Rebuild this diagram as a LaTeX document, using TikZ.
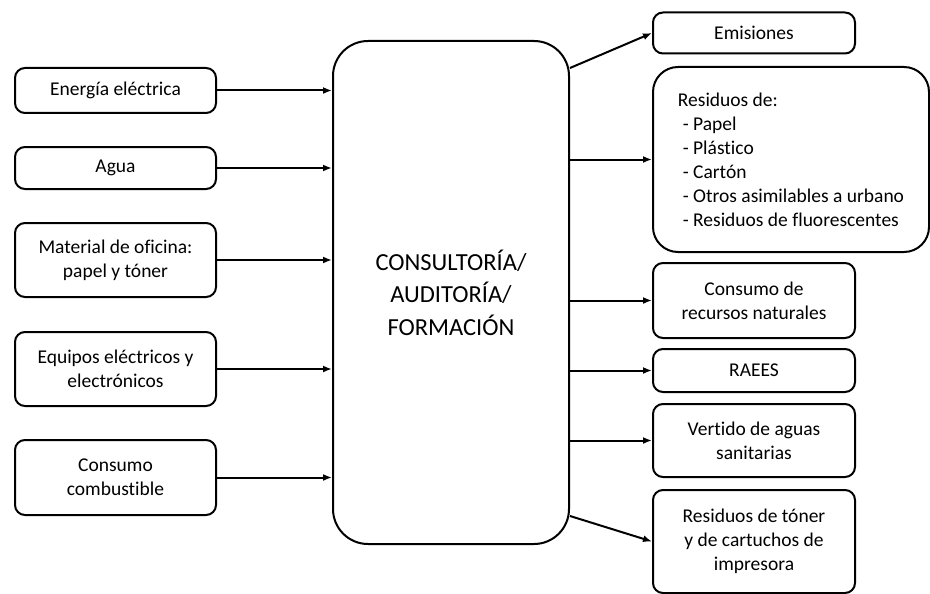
\documentclass[tikz,border=0pt]{standalone}
\usepackage{fontspec}
\setmainfont{Carlito}[Ligatures={NoCommon}]
\usepackage{tikz}
\usetikzlibrary{arrows.meta, positioning, calc}

\begin{document}
\begin{tikzpicture}[
    x=1pt, y=-1pt,
    inbox/.style   = {draw, line width=2pt, rounded corners=10pt, minimum width=201pt, align=center, font=\fontsize{19.5}{24}\selectfont},
    outbox/.style  = {draw, line width=2pt, rounded corners=10pt, minimum width=202pt, align=center, font=\fontsize{19.5}{24}\selectfont},
    mainbox/.style = {draw, line width=2pt, rounded corners=35pt, minimum width=236pt, minimum height=503pt, align=center, font=\fontsize{24.5}{32.5}\selectfont},
    arr/.style     = {-{Latex[length=9pt,width=7pt]}, line width=2pt},
]
\useasboundingbox (0,0) rectangle (930,594);

% ---- Central activity ----
\node[mainbox] (centro) at (451,292.5) {CONSULTORÍA/\\AUDITORÍA/\\FORMACIÓN};

% ---- Inputs (left column) ----
\node[inbox, minimum height=45pt] (energia)  at (115.5,90.5)  {Energía eléctrica};
\node[inbox, minimum height=42pt] (agua)     at (115.5,168)   {Agua};
\node[inbox, minimum height=74pt] (material) at (115.5,260)   {Material de oficina:\\papel y tóner};
\node[inbox, minimum height=74pt] (equipos)  at (115.5,369)   {Equipos eléctricos y\\electrónicos};
\node[inbox, minimum height=75pt] (combust)  at (115.5,477.5) {Consumo\\combustible};

% ---- Outputs (right column) ----
\node[outbox, minimum height=41pt]  (emisiones) at (754,33)    {Emisiones};
\node[outbox, minimum width=276pt, minimum height=185pt, rounded corners=25pt, align=left]
                                    (residuos)  at (791,159.5) {Residuos de:\\\hspace{0.25em}- Papel\\\hspace{0.25em}- Plástico\\\hspace{0.25em}- Cartón\\\hspace{0.25em}- Otros asimilables a urbano\\\hspace{0.25em}- Residuos de fluorescentes};
\node[outbox, minimum height=75pt]  (recursos)  at (754,300.5) {Consumo de\\recursos naturales};
\node[outbox, minimum height=43pt]  (raees)     at (754,370.5) {RAEES};
\node[outbox, minimum height=73pt]  (vertido)   at (754,440.5) {Vertido de aguas\\sanitarias};
\node[outbox, minimum height=103pt] (toner)     at (754,541.5) {Residuos de tóner\\y de cartuchos de\\impresora};

\coordinate (salida1) at ($(centro.north east)+(0,28)$);
\coordinate (salida6) at ($(centro.south east)+(0,-29)$);

% ---- Input arrows ----
\draw[arr] (energia)  -- (energia -| centro.west);
\draw[arr] (agua)     -- (agua -| centro.west);
\draw[arr] (material) -- (material -| centro.west);
\draw[arr] (equipos)  -- (equipos -| centro.west);
\draw[arr] (combust)  -- (combust -| centro.west);

% ---- Output arrows ----
\draw[arr] (salida1) -- (emisiones.west);
\draw[arr] (centro.east |- residuos) -- (residuos.west);
\draw[arr] (centro.east |- recursos) -- (recursos);
\draw[arr] (centro.east |- raees)    -- (raees);
\draw[arr] (centro.east |- vertido)  -- (vertido);
\draw[arr] (salida6) -- (toner.west);

\end{tikzpicture}
\end{document}
